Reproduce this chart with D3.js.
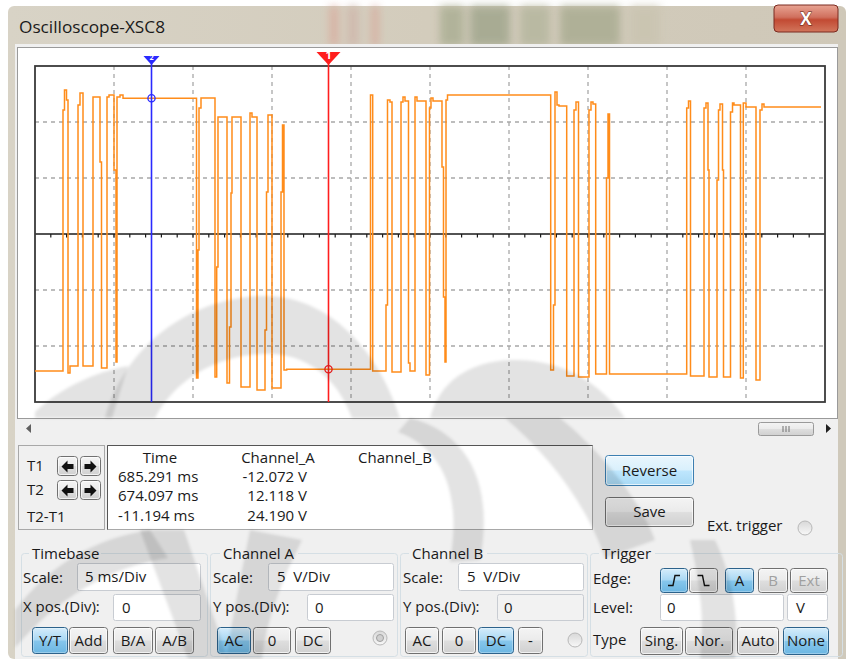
<!DOCTYPE html>
<html>
<head>
<meta charset="utf-8">
<script src="https://cdn.jsdelivr.net/npm/d3@7"></script>
<style>
  html, body { margin: 0; padding: 0; background: #ffffff; }
  svg { display: block; }
  text { font-family: "Open Sans", "Noto Sans", sans-serif; white-space: pre; }
</style>
</head>
<body>
<svg id="scope" width="846" height="659"></svg>
<script>
// ---------------- data ----------------
const instrumentName = "Oscilloscope-XSC8";
const sweepStart = 666.75;   // ms at the left edge of the screen
const msPerDiv = 5;
const voltsPerDiv = 5;
const timeDivs = 10;
const voltDivs = 6;

// Channel A samples (time in ms, level in V), held until the next sample
const traceTimes = [
  666.750, 668.522, 668.617, 668.744, 668.839, 668.965, 669.472, 669.598, 669.788, 670.421,
  670.864, 670.959, 671.307, 671.434, 671.750, 671.877, 671.940, 672.130, 672.320, 676.972,
  677.066, 677.130, 677.256, 678.142, 678.250, 678.332, 678.902, 679.060, 679.155, 679.218,
  679.788, 680.358, 680.484, 680.801, 681.307, 681.402, 681.497, 681.750, 682.320, 682.415,
  682.509, 682.680, 687.984, 688.123, 688.965, 689.060, 689.218, 689.345, 689.915, 690.041,
  690.168, 690.389, 690.484, 690.801, 690.927, 691.497, 691.718, 691.813, 691.940, 692.509,
  692.604, 692.699, 692.763, 692.858, 699.389, 699.566, 699.661, 699.788, 699.915, 700.402,
  700.864, 700.990, 701.149, 701.813, 701.940, 702.066, 702.237, 702.921, 703.016, 703.111,
  707.997, 708.111, 708.237, 709.092, 709.218, 709.345, 709.408, 709.915, 710.010, 710.104,
  710.263, 710.326, 710.769, 710.896, 710.990, 711.402, 711.579, 711.750, 712.383, 712.636,
  712.763, 712.889, 716.497
];
const traceVolts = [
  -12.23, 11.07, 12.86, 11.96, -12.41, -11.79, 11.52, 12.59, -11.79, 12.23,
  6.43, -11.96, 12.23, 12.41, 5.71, -11.43, 12.23, 12.41, 12.118, -12.86,
  -1.43, 11.25, 12.14, -12.77, -2.95, 10.45, -13.30, -8.30, 3.66, 10.45,
  -13.66, 10.80, 10.45, -13.93, -8.57, 3.75, 10.63, -13.75, 3.75, 9.73,
  -12.14, -12.072, 12.41, -12.23, -6.34, 11.96, 11.79, -12.32, 11.79, 12.23,
  11.88, -11.52, -12.23, 12.23, 11.88, -12.59, 11.25, 12.14, 11.88, 5.98,
  -5.63, -11.43, 11.96, 12.41, -12.14, -6.34, 12.68, 11.52, 11.43, -12.68,
  11.07, 11.79, -12.77, 11.07, 11.79, 11.61, -12.50, 5.00, 10.71, -12.50,
  11.25, 11.88, -12.68, 11.25, 11.70, 5.71, -12.77, 4.82, 11.07, 11.61,
  5.71, -12.77, 10.89, 11.70, 11.52, -12.86, 11.70, 11.34, -13.04, 11.07,
  11.61, 11.34, 11.34
];

// measurement cursors
const cursorNames = ["T1", "T2"];
const cursorTimes = [685.291, 674.097];
const cursorVolts = [-12.072, 12.118];

const readoutHeaders = ["Time", "Channel_A", "Channel_B"];
const timebaseButtons = ["Y/T", "Add", "B/A", "A/B"];
const channelAButtons = ["AC", "0", "DC"];
const channelBButtons = ["AC", "0", "DC", "-"];
const triggerSources = ["A", "B", "Ext"];
const triggerTypes = ["Sing.", "Nor.", "Auto", "None"];

// ---------------- drawing ----------------
const svg = d3.select("#scope");
const W = 846, H = 659;
const defs = svg.append("defs");

function linGrad(id, stops, x2 = 0, y2 = 1) {
  const g = defs.append("linearGradient").attr("id", id)
    .attr("x1", 0).attr("y1", 0).attr("x2", x2).attr("y2", y2);
  stops.forEach(([o, c]) => g.append("stop").attr("offset", o).attr("stop-color", c));
}
linGrad("btn", [[0, "#f4f4f4"], [0.48, "#ebebeb"], [0.52, "#dedede"], [1, "#d0d0d0"]]);
linGrad("btnOn", [[0, "#d6edfb"], [0.48, "#a9d8f4"], [0.52, "#86c6ec"], [1, "#6bb6e2"]]);
linGrad("btnHot", [[0, "#eaf6fd"], [0.48, "#d9f0fc"], [0.52, "#bee6fd"], [1, "#a7d9f5"]]);
linGrad("closeBtn", [[0, "#e8a493"], [0.45, "#d0705e"], [0.55, "#c24a33"], [1, "#d2765c"]]);
linGrad("titleBar", [[0, "#d8d3c6"], [0.5, "#d3ccbc"], [1, "#cfc8b8"]], 1, 0);
linGrad("radio", [[0, "#d8d8d8"], [1, "#f8f8f8"]]);
defs.append("filter").attr("id", "soft").attr("x", "-20%").attr("y", "-50%").attr("width", "140%").attr("height", "200%")
  .append("feGaussianBlur").attr("stdDeviation", 4);
defs.append("filter").attr("id", "wm").attr("x", "-5%").attr("y", "-5%").attr("width", "110%").attr("height", "110%")
  .append("feGaussianBlur").attr("stdDeviation", 1.5);

// window frame
svg.append("rect").attr("width", W).attr("height", H).attr("fill", "#ffffff");
svg.append("rect").attr("x", 8).attr("y", 6).attr("width", W - 8).attr("height", H - 6)
  .attr("rx", 6).attr("fill", "url(#titleBar)");
// blurred desktop showing through the glass title bar
const glass = svg.append("g").attr("filter", "url(#soft)").attr("opacity", 0.8);
[[330, 6, 8, "#d9a79a"], [348, 6, 10, "#cfb3a8"], [372, 6, 6, "#d8a395"],
 [440, 6, 24, "#a9ad92"], [470, 6, 40, "#9ea48a"], [520, 6, 30, "#b4b59c"], [560, 6, 60, "#a7aa8f"],
 [630, 6, 30, "#c9c4b0"]].forEach(([x, y, w, c]) => {
  glass.append("rect").attr("x", x).attr("y", y).attr("width", w).attr("height", 40).attr("fill", c);
});
svg.append("text").attr("x", 19).attr("y", 33).attr("font-size", 15.5).attr("fill", "#1a1a1a")
  .attr("textLength", 146).attr("lengthAdjust", "spacingAndGlyphs").text(instrumentName);

// close button
svg.append("rect").attr("x", 774).attr("y", 5).attr("width", 64).attr("height", 27).attr("rx", 4)
  .attr("fill", "url(#closeBtn)").attr("stroke", "#7a2a20").attr("stroke-width", 1);
svg.append("text").attr("x", 806).attr("y", 25).attr("text-anchor", "middle")
  .attr("font-size", 17).attr("font-weight", "bold").attr("fill", "#ffffff")
  .attr("stroke", "#5a1a10").attr("stroke-width", 0.8).attr("paint-order", "stroke").text("X");

// client area
svg.append("rect").attr("x", 15).attr("y", 44).attr("width", 824).attr("height", H - 44).attr("fill", "#f0f0f0");
svg.append("rect").attr("x", 838).attr("y", 40).attr("width", 8).attr("height", H - 40).attr("fill", "#cfc9bb");

// scope screen panel
svg.append("rect").attr("x", 17.5).attr("y", 47.5).attr("width", 820).attr("height", 371)
  .attr("fill", "#ffffff").attr("stroke", "#9a9a9a");

const plot = { left: 35, right: 825, top: 66, bottom: 402 };
const x = d3.scaleLinear([sweepStart, sweepStart + timeDivs * msPerDiv], [plot.left, plot.right]);
const y = d3.scaleLinear([-voltDivs / 2 * voltsPerDiv, voltDivs / 2 * voltsPerDiv], [plot.bottom, plot.top]);

const screen = svg.append("g");
// dashed graticule
const vGrid = d3.range(1, timeDivs).map(i => sweepStart + i * msPerDiv);
const hGrid = d3.range(1, voltDivs).map(i => -voltDivs / 2 * voltsPerDiv + i * voltsPerDiv).filter(v => v !== 0);
screen.selectAll(".vg").data(vGrid).join("line")
  .attr("x1", d => x(d)).attr("x2", d => x(d)).attr("y1", plot.top).attr("y2", plot.bottom)
  .attr("stroke", "#a8a8a8").attr("stroke-width", 1.3).attr("stroke-dasharray", "4,4");
screen.selectAll(".hg").data(hGrid).join("line")
  .attr("x1", plot.left).attr("x2", plot.right).attr("y1", d => y(d)).attr("y2", d => y(d))
  .attr("stroke", "#a8a8a8").attr("stroke-width", 1.3).attr("stroke-dasharray", "4,4");
// zero axis with minor ticks
screen.append("line").attr("x1", plot.left).attr("x2", plot.right).attr("y1", y(0)).attr("y2", y(0))
  .attr("stroke", "#1a1a1a").attr("stroke-width", 1.6);
const minor = d3.range(1, timeDivs * 5).map(i => sweepStart + i * msPerDiv / 5);
screen.selectAll(".mt").data(minor).join("line")
  .attr("x1", d => x(d)).attr("x2", d => x(d)).attr("y1", y(0)).attr("y2", y(0) + 3.5)
  .attr("stroke", "#1a1a1a").attr("stroke-width", 1.2);
screen.append("rect").attr("x", plot.left).attr("y", plot.top)
  .attr("width", plot.right - plot.left).attr("height", plot.bottom - plot.top)
  .attr("fill", "none").attr("stroke", "#3a3a3a").attr("stroke-width", 1.8);

// channel A trace
const traceData = traceTimes.map((t, i) => [t, traceVolts[i]]);
screen.append("path").datum(traceData)
  .attr("d", d3.line().x(d => x(d[0])).y(d => y(d[1])).curve(d3.curveStepAfter))
  .attr("fill", "none").attr("stroke", "#ff8c1a").attr("stroke-width", 1.5)
  .attr("stroke-linejoin", "miter");

// cursors
const cursorColors = ["#ff1e1e", "#2a2aff"];
const cursorSize = [12, 8];
cursorNames.forEach((name, i) => {
  const cx = Math.round(x(cursorTimes[i])) + 0.5;
  const cy = y(cursorVolts[i]);
  const s = cursorSize[i];
  screen.append("line").attr("x1", cx).attr("x2", cx).attr("y1", plot.top - 4).attr("y2", plot.bottom)
    .attr("stroke", cursorColors[i]).attr("stroke-width", 1.6);
  screen.append("path")
    .attr("d", `M${cx - s},${plot.top - 2 - s * 1.0} H${cx + s} L${cx},${plot.top - 1} Z`)
    .attr("fill", cursorColors[i]);
  screen.append("text").attr("x", cx).attr("y", plot.top - 3 - s * 0.35).attr("text-anchor", "middle")
    .attr("font-size", s * 0.9).attr("font-weight", "bold").attr("fill", "#ffffff").text(String(i + 1));
  screen.append("circle").attr("cx", cx).attr("cy", cy).attr("r", 3.6)
    .attr("fill", "none").attr("stroke", cursorColors[i]).attr("stroke-width", 1.3);
});

// scroll bar under the screen
svg.append("path").attr("d", "M31,424 L26,428.5 L31,433 Z").attr("fill", "#606060");
svg.append("path").attr("d", "M826,424 L831,428.5 L826,433 Z").attr("fill", "#202020");
svg.append("rect").attr("x", 758.5).attr("y", 422.5).attr("width", 55).attr("height", 13).attr("rx", 2)
  .attr("fill", "url(#btn)").attr("stroke", "#9a9a9a");
[783, 786, 789].forEach(gx => svg.append("line").attr("x1", gx).attr("x2", gx).attr("y1", 426).attr("y2", 432)
  .attr("stroke", "#707070").attr("stroke-width", 1));

// ---------------- widgets ----------------
const FS = 15;
function label(g, tx, ty, str, opts = {}) {
  return g.append("text").attr("x", tx).attr("y", ty).attr("dy", "0.35em")
    .attr("font-size", opts.size || FS).attr("fill", opts.fill || "#1a1a1a")
    .attr("text-anchor", opts.anchor || "start").text(str);
}
function button(g, bx, by, bw, bh, str, state) {
  const fill = state === "on" ? "url(#btnOn)" : state === "hot" ? "url(#btnHot)" : "url(#btn)";
  const stroke = state === "on" ? "#2c628b" : state === "hot" ? "#3c7fb1" : "#707070";
  g.append("rect").attr("x", bx + 0.5).attr("y", by + 0.5).attr("width", bw).attr("height", bh).attr("rx", 3)
    .attr("fill", fill).attr("stroke", stroke);
  g.append("rect").attr("x", bx + 1.5).attr("y", by + 1.5).attr("width", bw - 2).attr("height", bh - 2).attr("rx", 2)
    .attr("fill", "none").attr("stroke", "#ffffff").attr("stroke-opacity", state === "on" ? 0.3 : 0.7);
  if (str !== null) label(g, bx + bw / 2 + 0.5, by + bh / 2 + 0.5, str,
    { anchor: "middle", fill: state === "off" ? "#a0a0a0" : "#1a1a1a" });
}
function input(g, ix, iy, iw, ih, str, tx, bg) {
  g.append("rect").attr("x", ix + 0.5).attr("y", iy + 0.5).attr("width", iw).attr("height", ih).attr("rx", 2)
    .attr("fill", bg || "#ffffff").attr("stroke", "#c8ccd2");
  label(g, tx, iy + ih / 2 + 0.5, str);
}
function groupBox(g, gx, gy, gw, gh, str, lx, lw) {
  g.append("rect").attr("x", gx + 0.5).attr("y", gy + 0.5).attr("width", gw).attr("height", gh).attr("rx", 3)
    .attr("fill", "none").attr("stroke", "#d5dfe5");
  g.append("rect").attr("x", lx - 3).attr("y", gy - 3).attr("width", lw + 6).attr("height", 7).attr("fill", "#f0f0f0");
  label(g, lx, gy + 0.5, str);
}
function radio(g, rx, ry, dotted) {
  g.append("circle").attr("cx", rx).attr("cy", ry).attr("r", 7).attr("fill", "url(#radio)").attr("stroke", "#b8b8b8");
  if (dotted) g.append("circle").attr("cx", rx).attr("cy", ry).attr("r", 3.5).attr("fill", "#d0d0d0").attr("stroke", "#a0a0a0");
}

const ui = svg.append("g");

// cursor readout
ui.append("rect").attr("x", 18.5).attr("y", 445.5).attr("width", 86).attr("height", 84)
  .attr("fill", "#f0f0f0").attr("stroke", "#a8a8a8");
ui.append("rect").attr("x", 107.5).attr("y", 445.5).attr("width", 485).attr("height", 84)
  .attr("fill", "#ffffff").attr("stroke", "#a8a8a8");
ui.append("line").attr("x1", 107.5).attr("x2", 592.5).attr("y1", 445.5).attr("y2", 445.5).attr("stroke", "#555555");
ui.append("line").attr("x1", 107.5).attr("x2", 107.5).attr("y1", 445.5).attr("y2", 529.5).attr("stroke", "#555555");

const rowY = [466, 490];
cursorNames.forEach((n, i) => {
  label(ui, 27, rowY[i], n);
  [57, 80].forEach((bx, k) => {
    button(ui, bx, rowY[i] - 10, 20, 19, null, "normal");
    const cx = bx + 10.5, cy = rowY[i] + 0.5;
    const dir = k === 0 ? -1 : 1;
    ui.append("path")
      .attr("d", `M${cx + dir * 6},${cy} L${cx},${cy - 6} L${cx},${cy - 2.5} L${cx - dir * 6},${cy - 2.5} L${cx - dir * 6},${cy + 2.5} L${cx},${cy + 2.5} L${cx},${cy + 6} Z`)
      .attr("fill", "#111111");
  });
});
label(ui, 27, 517, "T2-T1");

label(ui, 160, 458, readoutHeaders[0], { anchor: "middle" });
label(ui, 278, 458, readoutHeaders[1], { anchor: "middle" });
label(ui, 358, 458, readoutHeaders[2]);
const fmt = d3.formatLocale({ decimal: ".", thousands: ",", grouping: [3], currency: ["", ""], minus: "-" }).format(".3f");
const timeRows = [cursorTimes[0], cursorTimes[1], cursorTimes[1] - cursorTimes[0]];
const voltRows = [cursorVolts[0], cursorVolts[1], cursorVolts[1] - cursorVolts[0]];
const valueY = [477, 496, 516];
timeRows.forEach((t, i) => label(ui, 118, valueY[i], fmt(t) + " ms"));
voltRows.forEach((v, i) => label(ui, 307, valueY[i], fmt(v) + " V", { anchor: "end" }));

button(ui, 605, 455, 88, 30, "Reverse", "hot");
button(ui, 605, 497, 88, 29, "Save", "normal");
label(ui, 707, 526, "Ext. trigger");
radio(ui, 805, 528, false);

// Timebase
groupBox(ui, 21, 553, 186, 103, "Timebase", 32, 66);
label(ui, 23, 578, "Scale:");
input(ui, 77, 563, 123, 27, "5 ms/Div", 85);
label(ui, 23, 607, "X pos.(Div):");
input(ui, 113, 594, 87, 26, "0", 122);
[[32, 35], [69, 38], [113, 39], [155, 38]].forEach(([bx, bw], i) =>
  button(ui, bx, 627, bw, 26, timebaseButtons[i], i === 0 ? "on" : "normal"));

// Channel A
groupBox(ui, 210, 553, 187, 103, "Channel A", 223, 72);
label(ui, 213, 578, "Scale:");
input(ui, 268, 563, 125, 27, "5  V/Div", 277);
label(ui, 213, 607, "Y pos.(Div):");
input(ui, 307, 594, 86, 26, "0", 315);
[[217, 33], [253, 37], [295, 35]].forEach(([bx, bw], i) =>
  button(ui, bx, 627, bw, 26, channelAButtons[i], i === 0 ? "on" : "normal"));
radio(ui, 380, 638, true);

// Channel B
groupBox(ui, 400, 553, 187, 103, "Channel B", 412, 72);
label(ui, 403, 578, "Scale:");
input(ui, 458, 563, 125, 27, "5  V/Div", 467);
label(ui, 403, 607, "Y pos.(Div):");
input(ui, 497, 594, 86, 26, "0", 504, "#f2f2f2");
[[405, 33], [442, 33], [478, 35], [518, 24]].forEach(([bx, bw], i) =>
  button(ui, bx, 627, bw, 26, channelBButtons[i], i === 2 ? "on" : "normal"));
radio(ui, 575, 640, false);

// Trigger
groupBox(ui, 590, 553, 252, 103, "Trigger", 602, 50);
label(ui, 593, 579, "Edge:");
button(ui, 660, 568, 27, 24, null, "on");
button(ui, 689, 568, 28, 24, null, "normal");
const edgeIcon = (cx, cy, dir) => `M${cx - 6},${cy + dir * 5} H${cx - 1} L${cx + 1},${cy - dir * 5} H${cx + 6}`;
ui.append("path").attr("d", edgeIcon(674, 580.5, 1)).attr("fill", "none").attr("stroke", "#111").attr("stroke-width", 1.4);
ui.append("path").attr("d", edgeIcon(703.5, 580.5, -1)).attr("fill", "none").attr("stroke", "#111").attr("stroke-width", 1.4);
[[725, 28], [758, 29], [790, 37]].forEach(([bx, bw], i) =>
  button(ui, bx, 568, bw, 24, triggerSources[i], i === 0 ? "on" : "off"));
label(ui, 593, 608, "Level:");
input(ui, 660, 594, 123, 26, "0", 667);
input(ui, 787, 594, 40, 26, "V", 796);
label(ui, 593, 640, "Type");
[[640, 42], [685, 47], [737, 41], [783, 45]].forEach(([bx, bw], i) =>
  button(ui, bx, 627, bw, 27, triggerTypes[i], i === 3 ? "on" : "normal"));

// faint emblem printed across the lower half of the page
const emblem = svg.append("g").attr("fill", "#000000").attr("fill-opacity", 0.11)
  .attr("filter", "url(#wm)").attr("pointer-events", "none");
[
  "M105,418 C125,345 190,298 262,296 C320,294 375,340 400,418 Z M155,418 C175,380 215,356 262,354 C300,352 335,372 352,418 Z",
  "M35,412 C60,388 95,372 128,366 L112,418 L35,418 Z",
  "M430,418 C440,380 470,362 510,360 C560,358 600,382 625,418 Z",
  "M410,418 C465,432 495,480 480,560 L450,562 C462,492 442,448 398,432 Z",
  "M505,418 L560,418 C600,450 640,500 655,540 L605,558 C585,500 545,452 505,418 Z",
  "M15,610 C50,565 95,538 150,530 L168,558 C110,566 55,600 15,648 Z",
  "M140,530 L188,659 L228,659 L184,530 Z",
  "M250,530 C240,580 232,620 226,659 L262,659 C266,620 282,580 302,540 Z",
  "M690,540 C700,585 705,620 700,659 L735,659 C740,612 730,572 715,540 Z"
].forEach(d => emblem.append("path").attr("d", d).attr("fill-rule", "evenodd"));
</script>
</body>
</html>
